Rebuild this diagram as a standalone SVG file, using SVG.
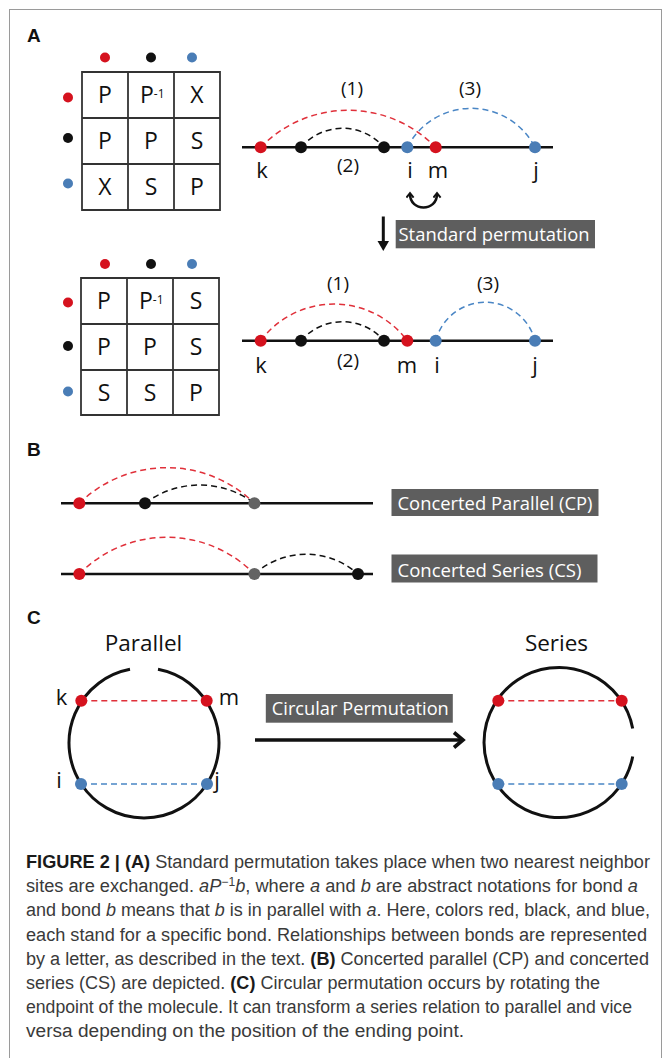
<svg xmlns="http://www.w3.org/2000/svg" width="665" height="1058" viewBox="0 0 665 1058">
<style>
.t{font-family:"Open Sans","Noto Sans",sans-serif;fill:#111}
.pl{font-size:22px;text-anchor:middle}
.cell{font-size:23px;text-anchor:middle}
.num{font-size:19px;text-anchor:middle}
.big{font-size:22.5px;text-anchor:middle}
.hd{font-family:"Liberation Sans",Arial,sans-serif;font-weight:bold;font-size:19px;fill:#111}
.box{fill:#5e5e5e}
.bt{font-family:"Open Sans","Noto Sans",sans-serif;font-size:18px;fill:#fff}
.axis{stroke:#111;stroke-width:2.6;fill:none}
.grid{stroke:#333;stroke-width:1.8;fill:none}
.arcR{stroke:#e0303a;stroke-width:1.5;stroke-dasharray:6 4;fill:none}
.arcK{stroke:#111;stroke-width:1.5;stroke-dasharray:6 4;fill:none}
.arcB{stroke:#4a86c5;stroke-width:1.5;stroke-dasharray:6 4;fill:none}
.red{fill:#d5121e}
.blk{fill:#111}
.blu{fill:#4a7db6}
.gry{fill:#636363}
.ring{stroke:#111;stroke-width:3;fill:none}
.cap{font-family:"Liberation Sans",Arial,sans-serif;font-size:18px;fill:#3a3a3a}
.b{font-weight:bold;fill:#1a1a1a}
.i{font-style:italic}
</style>
<defs>
<marker id="chev" viewBox="0 0 10 10" refX="5" refY="5" markerWidth="9" markerHeight="9" orient="auto-start-reverse" markerUnits="userSpaceOnUse">
<path d="M1,1 L6,5 L1,9" fill="none" stroke="#111" stroke-width="2.2"/>
</marker>
</defs>
<rect x="9.5" y="9.5" width="652" height="1070" fill="#fff" stroke="#9a9a9a" stroke-width="1"/>

<!-- Panel A -->
<text class="hd" x="27" y="42">A</text>

<g id="matrix1">
<circle class="red" cx="105" cy="57.5" r="5"/><circle class="blk" cx="151" cy="57.5" r="5"/><circle class="blu" cx="192" cy="57.5" r="5"/>
<circle class="red" cx="68" cy="97.5" r="5"/><circle class="blk" cx="68" cy="138" r="5"/><circle class="blu" cx="68" cy="183.5" r="5"/>
<path class="grid" d="M82,72H220V210H82Z M128,72V210 M174,72V210 M82,118H220 M82,164H220"/>
<text class="t cell" x="105" y="103">P</text>
<text class="t" x="140" y="103" style="font-size:23px">P<tspan dy="-5.5" style="font-size:12px">-1</tspan></text>
<text class="t cell" x="197" y="103">X</text>
<text class="t cell" x="105" y="149">P</text>
<text class="t cell" x="151" y="149">P</text>
<text class="t cell" x="197" y="149">S</text>
<text class="t cell" x="105" y="195">X</text>
<text class="t cell" x="151" y="195">S</text>
<text class="t cell" x="197" y="195">P</text>
</g>

<g id="chain1">
<line class="axis" x1="242" y1="147.3" x2="553" y2="147.3"/>
<path class="arcR" d="M260.7,147.3 A122,122 0 0 1 435.7,147.3"/>
<path class="arcK" d="M301,147.3 A54.8,54.8 0 0 1 384,147.3"/>
<path class="arcB" d="M407.3,147.3 A71.8,71.8 0 0 1 535,147.3"/>
<circle class="red" cx="260.7" cy="147.3" r="6"/>
<circle class="blk" cx="301" cy="147.3" r="6"/>
<circle class="blk" cx="384" cy="147.3" r="6"/>
<circle class="blu" cx="407.3" cy="147.3" r="6"/>
<circle class="red" cx="435.7" cy="147.3" r="6"/>
<circle class="blu" cx="535" cy="147.3" r="6"/>
<text class="t num" x="352" y="95">(1)</text>
<text class="t num" x="470" y="95">(3)</text>
<text class="t num" x="348" y="172">(2)</text>
<text class="t pl" x="262" y="178">k</text>
<text class="t pl" x="410" y="178">i</text>
<text class="t pl" x="438" y="178">m</text>
<text class="t pl" x="536" y="178">j</text>
</g>

<g id="connectors">
<path d="M410,194 C410,212 437,212 437,194" fill="none" stroke="#111" stroke-width="2.6" marker-start="url(#chev)" marker-end="url(#chev)"/>
<line x1="383.3" y1="216.5" x2="383.3" y2="243" stroke="#111" stroke-width="3"/>
<path d="M377.5,241 L389,241 L383.3,251 Z" fill="#111"/>
<line x1="255" y1="740" x2="462" y2="740" stroke="#111" stroke-width="3.6"/>
<path d="M454,732.5 L463,740 L454,747.5" fill="none" stroke="#111" stroke-width="3.6"/>
</g>

<g id="label-standard">
<rect class="box" x="395.7" y="220" width="199.3" height="28.3"/>
<text class="bt" x="398.5" y="240.5" textLength="191" lengthAdjust="spacingAndGlyphs">Standard permutation</text>
</g>

<g id="matrix2">
<circle class="red" cx="105" cy="264" r="5"/><circle class="blk" cx="151" cy="264" r="5"/><circle class="blu" cx="192" cy="264" r="5"/>
<circle class="red" cx="68" cy="302.5" r="5"/><circle class="blk" cx="68" cy="346" r="5"/><circle class="blu" cx="68" cy="391.5" r="5"/>
<path class="grid" d="M81,278H219V415H81Z M127,278V415 M173,278V415 M81,324H219 M81,370H219"/>
<text class="t cell" x="104" y="309">P</text>
<text class="t" x="139" y="309" style="font-size:23px">P<tspan dy="-5.5" style="font-size:12px">-1</tspan></text>
<text class="t cell" x="196" y="309">S</text>
<text class="t cell" x="104" y="355">P</text>
<text class="t cell" x="150" y="355">P</text>
<text class="t cell" x="196" y="355">S</text>
<text class="t cell" x="104" y="401">S</text>
<text class="t cell" x="150" y="401">S</text>
<text class="t cell" x="196" y="401">P</text>
</g>

<g id="chain2">
<line class="axis" x1="242" y1="340.7" x2="553" y2="340.7"/>
<path class="arcR" d="M260.7,340.7 A91.6,91.6 0 0 1 407.3,340.7"/>
<path class="arcK" d="M301,340.7 A54.8,54.8 0 0 1 384,340.7"/>
<path class="arcB" d="M435.7,340.7 A51.3,51.3 0 0 1 535,340.7"/>
<circle class="red" cx="260.7" cy="340.7" r="6"/>
<circle class="blk" cx="301" cy="340.7" r="6"/>
<circle class="blk" cx="384" cy="340.7" r="6"/>
<circle class="red" cx="407.3" cy="340.7" r="6"/>
<circle class="blu" cx="435.7" cy="340.7" r="6"/>
<circle class="blu" cx="535" cy="340.7" r="6"/>
<text class="t num" x="338" y="290">(1)</text>
<text class="t num" x="488" y="290">(3)</text>
<text class="t num" x="348" y="367">(2)</text>
<text class="t pl" x="261" y="373">k</text>
<text class="t pl" x="407" y="373">m</text>
<text class="t pl" x="437" y="373">i</text>
<text class="t pl" x="535" y="373">j</text>
</g>

<!-- Panel B -->
<text class="hd" x="27" y="456">B</text>
<g id="cp">
<line class="axis" x1="61" y1="503.3" x2="373" y2="503.3"/>
<path class="arcR" d="M79.3,503.3 A125.4,125.4 0 0 1 254.4,503.3"/>
<path class="arcK" d="M145,503.3 A90.9,90.9 0 0 1 254.4,503.3"/>
<circle class="red" cx="79.3" cy="503.3" r="6"/>
<circle class="blk" cx="145" cy="503.3" r="6"/>
<circle class="gry" cx="254.4" cy="503.3" r="6"/>
<rect class="box" x="391.5" y="489" width="207" height="27"/>
<text class="bt" x="397.5" y="509.5" textLength="195" lengthAdjust="spacingAndGlyphs">Concerted Parallel (CP)</text>
</g>
<g id="cs">
<line class="axis" x1="61" y1="574" x2="373" y2="574"/>
<path class="arcR" d="M79.3,574 A122.8,122.8 0 0 1 254.4,574"/>
<path class="arcK" d="M254.4,574 A77.9,77.9 0 0 1 358,574"/>
<circle class="red" cx="79.3" cy="574" r="6"/>
<circle class="gry" cx="254.4" cy="574" r="6"/>
<circle class="blk" cx="358" cy="574" r="6"/>
<rect class="box" x="391.5" y="554.5" width="206" height="28"/>
<text class="bt" x="397.5" y="576.5" textLength="184" lengthAdjust="spacingAndGlyphs">Concerted Series (CS)</text>
</g>

<!-- Panel C -->
<text class="hd" x="27" y="624">C</text>
<g id="parallel">
<text class="t big" x="143.5" y="650.5">Parallel</text>
<path class="ring" d="M158,669.3 A75,75 0 1 1 130,669.3"/>
<line class="arcR" x1="81.3" y1="700.7" x2="206.7" y2="700.7"/>
<line class="arcB" x1="81" y1="784" x2="207" y2="784"/>
<circle class="red" cx="81.3" cy="700.7" r="6"/>
<circle class="red" cx="206.7" cy="700.7" r="6"/>
<circle class="blu" cx="81" cy="784" r="6"/>
<circle class="blu" cx="207" cy="784" r="6"/>
<text class="t pl" x="61.5" y="705">k</text>
<text class="t pl" x="229" y="705">m</text>
<text class="t pl" x="59" y="788">i</text>
<text class="t pl" x="217" y="788">j</text>
</g>
<g id="label-circular">
<rect class="box" x="265.8" y="694" width="187" height="28.7"/>
<text class="bt" x="271.8" y="715" textLength="177" lengthAdjust="spacingAndGlyphs">Circular Permutation</text>
</g>
<g id="series">
<text class="t big" x="556.5" y="650.5">Series</text>
<path class="ring" d="M632.7,756.5 A75,75 0 1 1 632.7,728.5"/>
<line class="arcR" x1="498.3" y1="700.7" x2="621.7" y2="700.7"/>
<line class="arcB" x1="498.3" y1="784" x2="621.7" y2="784"/>
<circle class="red" cx="498.3" cy="700.7" r="6"/>
<circle class="red" cx="621.7" cy="700.7" r="6"/>
<circle class="blu" cx="498.3" cy="784" r="6"/>
<circle class="blu" cx="621.7" cy="784" r="6"/>
</g>

<!-- Caption -->
<g id="caption">
<text class="cap" x="26" y="868" textLength="624" lengthAdjust="spacingAndGlyphs"><tspan class="b">FIGURE 2 | (A)</tspan> Standard permutation takes place when two nearest neighbor</text>
<text class="cap" x="26" y="892.2" textLength="612" lengthAdjust="spacingAndGlyphs">sites are exchanged. <tspan class="i">aP</tspan><tspan dy="-6" style="font-size:12px">−1</tspan><tspan class="i" dy="6">b</tspan>, where <tspan class="i">a</tspan> and <tspan class="i">b</tspan> are abstract notations for bond <tspan class="i">a</tspan></text>
<text class="cap" x="26" y="916.4" textLength="624" lengthAdjust="spacingAndGlyphs">and bond <tspan class="i">b</tspan> means that <tspan class="i">b</tspan> is in parallel with <tspan class="i">a</tspan>. Here, colors red, black, and blue,</text>
<text class="cap" x="26" y="940.6" textLength="621" lengthAdjust="spacingAndGlyphs">each stand for a specific bond. Relationships between bonds are represented</text>
<text class="cap" x="26" y="964.8" textLength="623" lengthAdjust="spacingAndGlyphs">by a letter, as described in the text. <tspan class="b">(B)</tspan> Concerted parallel (CP) and concerted</text>
<text class="cap" x="26" y="989" textLength="574" lengthAdjust="spacingAndGlyphs">series (CS) are depicted. <tspan class="b">(C)</tspan> Circular permutation occurs by rotating the</text>
<text class="cap" x="26" y="1013.2" textLength="606" lengthAdjust="spacingAndGlyphs">endpoint of the molecule. It can transform a series relation to parallel and vice</text>
<text class="cap" x="26" y="1037.4" textLength="438" lengthAdjust="spacingAndGlyphs">versa depending on the position of the ending point.</text>
</g>
</svg>
